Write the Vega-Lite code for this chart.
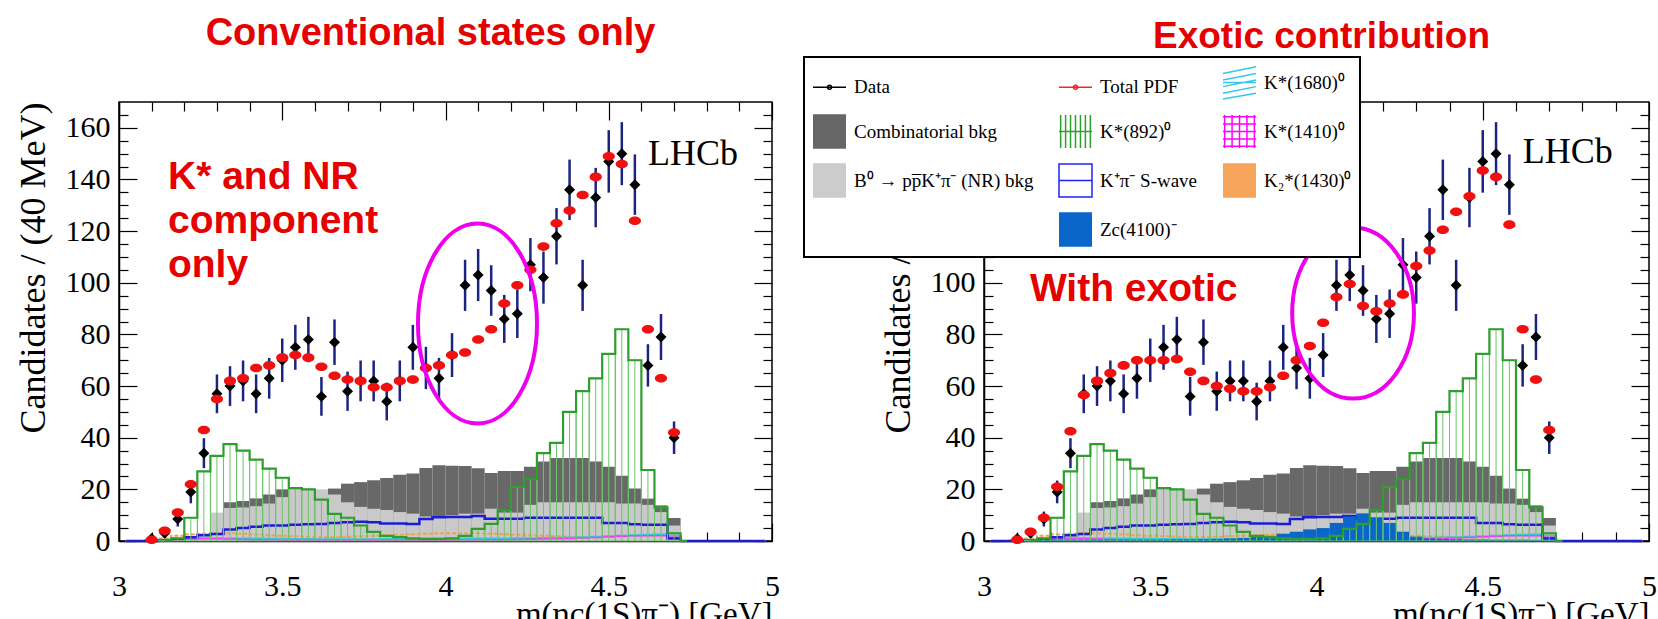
{
  "$schema": "https://vega.github.io/schema/vega-lite/v6.json",
  "padding": {"left": 14, "top": 14, "right": 0, "bottom": 0},
  "background": "white",
  "bounds": "flush",
  "spacing": 212,
  "config": {
    "view": {"stroke": "black", "strokeWidth": 1.5},
    "font": "Liberation Serif",
    "axis": {"grid": false, "labelFont": "Liberation Serif", "titleFont": "Liberation Serif", "labelColor": "black", "titleColor": "black", "tickColor": "black", "domainColor": "black", "titleFontWeight": "normal", "labelFontSize": 30, "titleFontSize": 36, "tickWidth": 1.2},
    "legend": {"strokeWidth": 2}
  },
  "datasets": {
    "hist": [
      {"m": 3.02, "lo": 3.00, "hi": 3.04, "comb": 0, "nr": 0, "kst": 0, "sw": 0, "k2": 0, "ka": 0, "kb": 0, "zc": 0},
      {"m": 3.06, "lo": 3.04, "hi": 3.08, "comb": 0, "nr": 0, "kst": 0, "sw": 0, "k2": 0, "ka": 0, "kb": 0, "zc": 0},
      {"m": 3.10, "lo": 3.08, "hi": 3.12, "comb": 0, "nr": 0, "kst": 0, "sw": 0, "k2": 0.2, "ka": 0.2, "kb": 0.1, "zc": 0.2},
      {"m": 3.14, "lo": 3.12, "hi": 3.16, "comb": 0, "nr": 0.3, "kst": 0.3, "sw": 0.2, "k2": 1, "ka": 0.5, "kb": 0.3, "zc": 0.3},
      {"m": 3.18, "lo": 3.16, "hi": 3.20, "comb": 0, "nr": 0.8, "kst": 1, "sw": 0.8, "k2": 2, "ka": 0.8, "kb": 0.6, "zc": 0.4},
      {"m": 3.22, "lo": 3.20, "hi": 3.24, "comb": 0, "nr": 1.5, "kst": 9, "sw": 1.5, "k2": 2.5, "ka": 1, "kb": 0.8, "zc": 0.5},
      {"m": 3.26, "lo": 3.24, "hi": 3.28, "comb": 0, "nr": 3, "kst": 27, "sw": 2.2, "k2": 2.8, "ka": 1, "kb": 1, "zc": 0.5},
      {"m": 3.30, "lo": 3.28, "hi": 3.32, "comb": 0, "nr": 11, "kst": 33, "sw": 2.7, "k2": 3, "ka": 1, "kb": 1, "zc": 0.5},
      {"m": 3.34, "lo": 3.32, "hi": 3.36, "comb": 15, "nr": 12.8, "kst": 37.5, "sw": 4.5, "k2": 3, "ka": 1, "kb": 0.8, "zc": 0.5},
      {"m": 3.38, "lo": 3.36, "hi": 3.40, "comb": 15.5, "nr": 13, "kst": 35, "sw": 5, "k2": 2.8, "ka": 1, "kb": 0.6, "zc": 0.5},
      {"m": 3.42, "lo": 3.40, "hi": 3.44, "comb": 16.5, "nr": 13.5, "kst": 31.5, "sw": 5.5, "k2": 2.5, "ka": 1, "kb": 0.5, "zc": 0.5},
      {"m": 3.46, "lo": 3.44, "hi": 3.48, "comb": 18, "nr": 14.5, "kst": 28, "sw": 6, "k2": 2.2, "ka": 0.9, "kb": 0.4, "zc": 0.5},
      {"m": 3.50, "lo": 3.48, "hi": 3.52, "comb": 20, "nr": 17, "kst": 24.5, "sw": 6, "k2": 2, "ka": 0.9, "kb": 0.3, "zc": 0.5},
      {"m": 3.54, "lo": 3.52, "hi": 3.56, "comb": 18, "nr": 20.3, "kst": 20.5, "sw": 6.3, "k2": 1.8, "ka": 0.8, "kb": 0.3, "zc": 0.5},
      {"m": 3.58, "lo": 3.56, "hi": 3.60, "comb": 18, "nr": 20.3, "kst": 20, "sw": 6.5, "k2": 1.6, "ka": 0.8, "kb": 0.3, "zc": 0.6},
      {"m": 3.62, "lo": 3.60, "hi": 3.64, "comb": 19, "nr": 20, "kst": 16, "sw": 6.6, "k2": 1.5, "ka": 0.7, "kb": 0.3, "zc": 0.6},
      {"m": 3.66, "lo": 3.64, "hi": 3.68, "comb": 20.3, "nr": 18, "kst": 10.5, "sw": 7, "k2": 1.5, "ka": 0.7, "kb": 0.3, "zc": 0.7},
      {"m": 3.70, "lo": 3.68, "hi": 3.72, "comb": 22.2, "nr": 15, "kst": 9, "sw": 7.3, "k2": 1.6, "ka": 0.7, "kb": 0.3, "zc": 0.8},
      {"m": 3.74, "lo": 3.72, "hi": 3.76, "comb": 22.8, "nr": 13.2, "kst": 6, "sw": 7.5, "k2": 1.8, "ka": 0.7, "kb": 0.3, "zc": 1},
      {"m": 3.78, "lo": 3.76, "hi": 3.80, "comb": 23.5, "nr": 12.5, "kst": 3.5, "sw": 7.3, "k2": 2, "ka": 0.7, "kb": 0.3, "zc": 1.2},
      {"m": 3.82, "lo": 3.80, "hi": 3.84, "comb": 24.4, "nr": 12, "kst": 2, "sw": 6.8, "k2": 2.2, "ka": 0.8, "kb": 0.3, "zc": 1.5},
      {"m": 3.86, "lo": 3.84, "hi": 3.88, "comb": 25.7, "nr": 11.2, "kst": 1.5, "sw": 6.8, "k2": 2.4, "ka": 0.8, "kb": 0.3, "zc": 2},
      {"m": 3.90, "lo": 3.88, "hi": 3.92, "comb": 26.1, "nr": 10.6, "kst": 1, "sw": 6.6, "k2": 2.6, "ka": 0.8, "kb": 0.3, "zc": 2.8},
      {"m": 3.94, "lo": 3.92, "hi": 3.96, "comb": 28.3, "nr": 9.5, "kst": 0.8, "sw": 8.5, "k2": 2.8, "ka": 0.9, "kb": 0.3, "zc": 3.6},
      {"m": 3.98, "lo": 3.96, "hi": 4.00, "comb": 29.3, "nr": 9.3, "kst": 0.8, "sw": 9.2, "k2": 3, "ka": 0.9, "kb": 0.3, "zc": 4.5},
      {"m": 4.02, "lo": 4.00, "hi": 4.04, "comb": 29.1, "nr": 10, "kst": 1, "sw": 9.3, "k2": 3, "ka": 0.9, "kb": 0.3, "zc": 5},
      {"m": 4.06, "lo": 4.04, "hi": 4.08, "comb": 29, "nr": 10.6, "kst": 2, "sw": 9.3, "k2": 3, "ka": 1, "kb": 0.4, "zc": 7},
      {"m": 4.10, "lo": 4.08, "hi": 4.12, "comb": 28.2, "nr": 10.6, "kst": 4.7, "sw": 9.7, "k2": 3, "ka": 1, "kb": 0.4, "zc": 9.5},
      {"m": 4.14, "lo": 4.12, "hi": 4.16, "comb": 26.3, "nr": 12.5, "kst": 6.6, "sw": 8.6, "k2": 2.8, "ka": 1, "kb": 0.5, "zc": 10.7},
      {"m": 4.18, "lo": 4.16, "hi": 4.20, "comb": 27.1, "nr": 11, "kst": 12, "sw": 8.6, "k2": 2.6, "ka": 1, "kb": 0.5, "zc": 9},
      {"m": 4.22, "lo": 4.20, "hi": 4.24, "comb": 27.1, "nr": 11, "kst": 21, "sw": 8.6, "k2": 2.4, "ka": 1.1, "kb": 0.6, "zc": 7},
      {"m": 4.26, "lo": 4.24, "hi": 4.28, "comb": 28.8, "nr": 14, "kst": 24, "sw": 9, "k2": 2.2, "ka": 1.1, "kb": 0.7, "zc": 3.6},
      {"m": 4.30, "lo": 4.28, "hi": 4.32, "comb": 30.8, "nr": 15, "kst": 34, "sw": 9, "k2": 2, "ka": 1.2, "kb": 0.8, "zc": 1.7},
      {"m": 4.34, "lo": 4.32, "hi": 4.36, "comb": 32.1, "nr": 15, "kst": 38, "sw": 9, "k2": 1.8, "ka": 1.3, "kb": 0.9, "zc": 1},
      {"m": 4.38, "lo": 4.36, "hi": 4.40, "comb": 32.1, "nr": 15, "kst": 50, "sw": 9, "k2": 1.6, "ka": 1.4, "kb": 1, "zc": 0.8},
      {"m": 4.42, "lo": 4.40, "hi": 4.44, "comb": 32.1, "nr": 15, "kst": 58, "sw": 9, "k2": 1.5, "ka": 1.5, "kb": 1.2, "zc": 0.7},
      {"m": 4.46, "lo": 4.44, "hi": 4.48, "comb": 30.8, "nr": 15, "kst": 63, "sw": 9, "k2": 1.5, "ka": 1.6, "kb": 1.4, "zc": 0.6},
      {"m": 4.50, "lo": 4.48, "hi": 4.52, "comb": 28.8, "nr": 15, "kst": 72.5, "sw": 7, "k2": 1.6, "ka": 1.8, "kb": 1.6, "zc": 0.6},
      {"m": 4.54, "lo": 4.52, "hi": 4.56, "comb": 25.3, "nr": 14.5, "kst": 82, "sw": 7, "k2": 1.8, "ka": 2, "kb": 1.8, "zc": 0.5},
      {"m": 4.58, "lo": 4.56, "hi": 4.60, "comb": 20.3, "nr": 14.5, "kst": 70, "sw": 6.5, "k2": 2, "ka": 2.2, "kb": 2, "zc": 0.5},
      {"m": 4.62, "lo": 4.60, "hi": 4.64, "comb": 16.4, "nr": 14, "kst": 27.5, "sw": 6.3, "k2": 2.2, "ka": 2.4, "kb": 2, "zc": 0.5},
      {"m": 4.66, "lo": 4.64, "hi": 4.68, "comb": 13.8, "nr": 11.2, "kst": 13, "sw": 6.3, "k2": 2.4, "ka": 2.5, "kb": 2, "zc": 0.4},
      {"m": 4.70, "lo": 4.68, "hi": 4.72, "comb": 8.9, "nr": 6, "kst": 3, "sw": 1, "k2": 2, "ka": 2, "kb": 1.5, "zc": 0.3},
      {"m": 4.74, "lo": 4.72, "hi": 4.76, "comb": 0, "nr": 0, "kst": 0, "sw": 0, "k2": 0, "ka": 0, "kb": 0, "zc": 0},
      {"m": 4.78, "lo": 4.76, "hi": 4.80, "comb": 0, "nr": 0, "kst": 0, "sw": 0, "k2": 0, "ka": 0, "kb": 0, "zc": 0},
      {"m": 4.82, "lo": 4.80, "hi": 4.84, "comb": 0, "nr": 0, "kst": 0, "sw": 0, "k2": 0, "ka": 0, "kb": 0, "zc": 0},
      {"m": 4.86, "lo": 4.84, "hi": 4.88, "comb": 0, "nr": 0, "kst": 0, "sw": 0, "k2": 0, "ka": 0, "kb": 0, "zc": 0},
      {"m": 4.90, "lo": 4.88, "hi": 4.92, "comb": 0, "nr": 0, "kst": 0, "sw": 0, "k2": 0, "ka": 0, "kb": 0, "zc": 0},
      {"m": 4.94, "lo": 4.92, "hi": 4.96, "comb": 0, "nr": 0, "kst": 0, "sw": 0, "k2": 0, "ka": 0, "kb": 0, "zc": 0},
      {"m": 4.98, "lo": 4.96, "hi": 5.00, "comb": 0, "nr": 0, "kst": 0, "sw": 0, "k2": 0, "ka": 0, "kb": 0, "zc": 0}
    ],
    "pts": [
      {"m": 3.10, "n": 1, "err": 1, "conv": 0.5, "exo": 0.5},
      {"m": 3.14, "n": 3, "err": 1.7, "conv": 4, "exo": 3.6},
      {"m": 3.18, "n": 8.5, "err": 2.9, "conv": 11, "exo": 9},
      {"m": 3.22, "n": 19, "err": 4.4, "conv": 22, "exo": 21},
      {"m": 3.26, "n": 34, "err": 5.8, "conv": 43, "exo": 42.5},
      {"m": 3.30, "n": 57, "err": 7.5, "conv": 55, "exo": 56.5},
      {"m": 3.34, "n": 60, "err": 7.7, "conv": 62, "exo": 62},
      {"m": 3.38, "n": 62, "err": 7.9, "conv": 63, "exo": 65},
      {"m": 3.42, "n": 57, "err": 7.5, "conv": 67, "exo": 68},
      {"m": 3.46, "n": 63, "err": 7.9, "conv": 68, "exo": 70},
      {"m": 3.50, "n": 70, "err": 8.4, "conv": 71, "exo": 70},
      {"m": 3.54, "n": 75, "err": 8.7, "conv": 72, "exo": 70},
      {"m": 3.58, "n": 78, "err": 8.8, "conv": 71, "exo": 70.5},
      {"m": 3.62, "n": 56, "err": 7.5, "conv": 67.5, "exo": 65.5},
      {"m": 3.66, "n": 77, "err": 8.8, "conv": 64, "exo": 62},
      {"m": 3.70, "n": 58, "err": 7.6, "conv": 62.5, "exo": 60},
      {"m": 3.74, "n": 62, "err": 7.9, "conv": 62, "exo": 59},
      {"m": 3.78, "n": 62, "err": 7.9, "conv": 59.5, "exo": 58},
      {"m": 3.82, "n": 54, "err": 7.3, "conv": 59.5, "exo": 58},
      {"m": 3.86, "n": 62, "err": 7.9, "conv": 62, "exo": 59.5},
      {"m": 3.90, "n": 75, "err": 8.7, "conv": 62.5, "exo": 64},
      {"m": 3.94, "n": 67, "err": 8.2, "conv": 67, "exo": 70},
      {"m": 3.98, "n": 63, "err": 7.9, "conv": 68, "exo": 75.5},
      {"m": 4.02, "n": 72, "err": 8.5, "conv": 72, "exo": 84.5},
      {"m": 4.06, "n": 99, "err": 9.9, "conv": 73, "exo": 94.5},
      {"m": 4.10, "n": 103, "err": 10.1, "conv": 78, "exo": 99.5},
      {"m": 4.14, "n": 97, "err": 9.8, "conv": 82, "exo": 91},
      {"m": 4.18, "n": 86, "err": 9.3, "conv": 92, "exo": 89},
      {"m": 4.22, "n": 88, "err": 9.4, "conv": 99, "exo": 92},
      {"m": 4.26, "n": 107, "err": 10.3, "conv": 105, "exo": 95.5},
      {"m": 4.30, "n": 102, "err": 10.1, "conv": 114, "exo": 106.5},
      {"m": 4.34, "n": 118, "err": 10.9, "conv": 123, "exo": 112.5},
      {"m": 4.38, "n": 136, "err": 11.7, "conv": 128, "exo": 120.5},
      {"m": 4.42, "n": 99, "err": 9.9, "conv": 134, "exo": 127.5},
      {"m": 4.46, "n": 133, "err": 11.5, "conv": 141, "exo": 133.5},
      {"m": 4.50, "n": 147, "err": 12.1, "conv": 149, "exo": 143.5},
      {"m": 4.54, "n": 150, "err": 12.2, "conv": 146, "exo": 141},
      {"m": 4.58, "n": 138, "err": 11.7, "conv": 124, "exo": 122.5},
      {"m": 4.62, "n": 68, "err": 8.2, "conv": 82, "exo": 82},
      {"m": 4.66, "n": 79, "err": 8.9, "conv": 63, "exo": 62.5},
      {"m": 4.70, "n": 40, "err": 6.3, "conv": 42, "exo": 43}
    ],
    "notes": [
      {"p": "L", "kind": "tag", "m": 4.62, "v": 145.5, "t": "LHCb"},
      {"p": "R", "kind": "tag", "m": 4.62, "v": 146.4, "t": "LHCb"},
      {"p": "L", "kind": "say", "m": 3.15, "v": 136.4, "t": "K* and NR\ncomponent\nonly"},
      {"p": "R", "kind": "say", "m": 3.138, "v": 92.9, "t": "With exotic"},
      {"p": "L", "kind": "ring", "m": 4.098, "v": 84.2, "t": ""},
      {"p": "R", "kind": "ring", "m": 4.11, "v": 88.25, "t": ""}
    ],
    "keys": [
      {"key": "Data"}, {"key": "Combinatorial bkg"}, {"key": "B⁰ → pp̅K⁺π⁻ (NR) bkg"}, {"key": " "},
      {"key": "Total PDF"}, {"key": "K*(892)⁰"}, {"key": "K⁺π⁻ S-wave"}, {"key": "Zc(4100)⁻"},
      {"key": "K*(1680)⁰"}, {"key": "K*(1410)⁰"}, {"key": "K₂*(1430)⁰"}
    ]
  },
  "resolve": {
    "scale": {"color": "independent", "shape": "independent"},
    "legend": {"color": "independent", "shape": "independent"}
  },
  "hconcat": [
    {
      "width": 653,
      "height": 439,
      "title": {"text": "Conventional states only", "font": "Liberation Sans", "fontSize": 38, "fontWeight": "bold", "color": "#e60000", "anchor": "middle", "offset": 48, "dx": -15},
      "resolve": {"axis": {"x": "independent", "y": "independent"}},
      "layer": [
        {
          "data": {"name": "hist"},
          "mark": {"type": "rect", "color": "#686868"},
          "encoding": {
            "x": {"field": "lo", "type": "quantitative", "scale": {"domain": [3, 5], "nice": false, "zero": false},
              "axis": {"orient": "bottom", "values": [3, 3.5, 4, 4.5, 5], "format": "~g", "tickSize": -18, "labelPadding": 48, "labelFlush": false, "labelOverlap": false, "title": "m(ηc(1S)π⁻) [GeV]", "titleAnchor": "end", "titleAlign": "right", "titlePadding": -3, "titleFontSize": 33, "domainWidth": 1.5}},
            "x2": {"field": "hi"},
            "y": {"field": "comb", "type": "quantitative", "scale": {"domain": [0, 170], "nice": false},
              "axis": {"orient": "left", "values": [0, 20, 40, 60, 80, 100, 120, 140, 160], "tickSize": -18, "labelPadding": 27, "title": "Candidates / (40 MeV)", "titleAnchor": "end", "titlePadding": 13, "domainWidth": 1.5}},
            "y2": {"datum": 0}
          }
        },
        {
          "data": {"name": "hist"},
          "mark": {"type": "rect", "color": "#c9c9c9"},
          "encoding": {
            "x": {"field": "lo", "type": "quantitative", "axis": {"orient": "bottom", "values": [3.1, 3.2, 3.3, 3.4, 3.6, 3.7, 3.8, 3.9, 4.1, 4.2, 4.3, 4.4, 4.6, 4.7, 4.8, 4.9], "tickSize": -9, "labels": false, "domain": false, "title": null}},
            "x2": {"field": "hi"},
            "y": {"field": "nr", "type": "quantitative", "axis": {"orient": "left", "values": [5, 10, 15, 25, 30, 35, 45, 50, 55, 65, 70, 75, 85, 90, 95, 105, 110, 115, 125, 130, 135, 145, 150, 155, 165], "tickSize": -9, "labels": false, "domain": false, "title": null}},
            "y2": {"datum": 0}
          }
        },
        {
          "data": {"name": "hist"},
          "mark": {"type": "line", "interpolate": "step", "color": "#f5a04a", "strokeWidth": 2, "strokeDash": [4, 2]},
          "encoding": {
            "x": {"field": "m", "type": "quantitative", "axis": {"orient": "top", "values": [3, 3.5, 4, 4.5, 5], "tickSize": -18, "labels": false, "domain": false, "title": null}},
            "y": {"field": "k2", "type": "quantitative", "axis": {"orient": "right", "values": [0, 20, 40, 60, 80, 100, 120, 140, 160], "tickSize": -18, "labels": false, "domain": false, "title": null}}
          }
        },
        {
          "data": {"name": "hist"},
          "mark": {"type": "line", "interpolate": "step", "color": "#33c6ee", "strokeWidth": 2},
          "encoding": {
            "x": {"field": "m", "type": "quantitative", "axis": {"orient": "top", "values": [3.1, 3.2, 3.3, 3.4, 3.6, 3.7, 3.8, 3.9, 4.1, 4.2, 4.3, 4.4, 4.6, 4.7, 4.8, 4.9], "tickSize": -9, "labels": false, "domain": false, "title": null}},
            "y": {"field": "ka", "type": "quantitative", "axis": {"orient": "right", "values": [5, 10, 15, 25, 30, 35, 45, 50, 55, 65, 70, 75, 85, 90, 95, 105, 110, 115, 125, 130, 135, 145, 150, 155, 165], "tickSize": -9, "labels": false, "domain": false, "title": null}}
          }
        },
        {
          "data": {"name": "hist"},
          "mark": {"type": "line", "interpolate": "step", "color": "#ff33ff", "strokeWidth": 1.5},
          "encoding": {"x": {"field": "m", "type": "quantitative", "axis": null}, "y": {"field": "kb", "type": "quantitative", "axis": null}}
        },
        {
          "data": {"name": "hist"},
          "mark": {"type": "line", "interpolate": "step", "color": "#1c1cd6", "strokeWidth": 2.5},
          "encoding": {"x": {"field": "m", "type": "quantitative", "axis": null}, "y": {"field": "sw", "type": "quantitative", "axis": null}}
        },
        {
          "data": {"name": "hist"},
          "transform": [{"filter": "datum.kst > 0"}],
          "mark": {"type": "rect", "fill": "transparent", "stroke": "#6cc46c", "strokeWidth": 1},
          "encoding": {"x": {"field": "lo", "type": "quantitative", "axis": null}, "x2": {"field": "hi"}, "y": {"field": "kst", "type": "quantitative", "axis": null}, "y2": {"datum": 0}}
        },
        {
          "data": {"name": "hist"},
          "transform": [{"filter": "datum.kst > 0"}],
          "mark": {"type": "rule", "color": "#6cc46c", "strokeWidth": 1},
          "encoding": {"x": {"field": "m", "type": "quantitative", "axis": null}, "y": {"field": "kst", "type": "quantitative", "axis": null}, "y2": {"datum": 0}}
        },
        {
          "data": {"name": "hist"},
          "transform": [{"filter": {"field": "m", "range": [3.14, 4.74]}}],
          "mark": {"type": "line", "interpolate": "step", "color": "#2e9e2e", "strokeWidth": 2.2},
          "encoding": {"x": {"field": "m", "type": "quantitative", "axis": null}, "y": {"field": "kst", "type": "quantitative", "axis": null}}
        },
        {
          "data": {"name": "pts"},
          "mark": {"type": "errorbar", "ticks": false, "thickness": 2.5, "color": "#1b2580"},
          "encoding": {"x": {"field": "m", "type": "quantitative", "axis": null}, "y": {"field": "n", "type": "quantitative", "axis": null}, "yError": {"field": "err"}}
        },
        {
          "data": {"name": "pts"},
          "mark": {"type": "point", "filled": true, "color": "black", "opacity": 1, "shape": "M-1,0L0,-1L1,0L0,1Z", "size": 121},
          "encoding": {"x": {"field": "m", "type": "quantitative", "axis": null}, "y": {"field": "n", "type": "quantitative", "axis": null}}
        },
        {
          "data": {"name": "pts"},
          "mark": {"type": "point", "filled": true, "color": "#f01010", "opacity": 1, "shape": "M-1,0A1,0.7 0 1,0 1,0A1,0.7 0 1,0 -1,0Z", "size": 150},
          "encoding": {"x": {"field": "m", "type": "quantitative", "axis": null}, "y": {"field": "conv", "type": "quantitative", "axis": null}}
        },
        {
          "data": {"name": "notes"},
          "transform": [{"filter": "datum.p === 'L' && datum.kind === 'ring'"}],
          "mark": {"type": "point", "filled": false, "stroke": "#ee00ee", "strokeWidth": 4, "opacity": 1, "shape": "M-0.595,0A0.595,1 0 1,0 0.595,0A0.595,1 0 1,0 -0.595,0Z", "size": 40000},
          "encoding": {"x": {"field": "m", "type": "quantitative", "axis": null}, "y": {"field": "v", "type": "quantitative", "axis": null}}
        },
        {
          "data": {"name": "notes"},
          "transform": [{"filter": "datum.p === 'L' && datum.kind === 'tag'"}],
          "mark": {"type": "text", "font": "Liberation Serif", "fontSize": 36, "color": "black", "align": "left", "baseline": "alphabetic"},
          "encoding": {"x": {"field": "m", "type": "quantitative", "axis": null}, "y": {"field": "v", "type": "quantitative", "axis": null}, "text": {"field": "t"}}
        },
        {
          "data": {"name": "notes"},
          "transform": [{"filter": "datum.p === 'L' && datum.kind === 'say'"}],
          "mark": {"type": "text", "font": "Liberation Sans", "fontWeight": "bold", "fontSize": 39, "color": "#e60000", "align": "left", "baseline": "alphabetic", "lineBreak": "\n", "lineHeight": 44},
          "encoding": {"x": {"field": "m", "type": "quantitative", "axis": null}, "y": {"field": "v", "type": "quantitative", "axis": null}, "text": {"field": "t"}}
        }
      ]
    },
    {
      "width": 665,
      "height": 439,
      "title": {"text": "Exotic contribution", "font": "Liberation Sans", "fontSize": 37, "fontWeight": "bold", "color": "#e60000", "anchor": "middle", "offset": 0, "dx": 5},
      "resolve": {"axis": {"x": "independent", "y": "independent"}},
      "layer": [
        {
          "data": {"name": "hist"},
          "mark": {"type": "rect", "color": "#686868"},
          "encoding": {
            "x": {"field": "lo", "type": "quantitative", "scale": {"domain": [3, 5], "nice": false, "zero": false},
              "axis": {"orient": "bottom", "values": [3, 3.5, 4, 4.5, 5], "format": "~g", "tickSize": -18, "labelPadding": 48, "labelFlush": false, "labelOverlap": false, "title": "m(ηc(1S)π⁻) [GeV]", "titleAnchor": "end", "titleAlign": "right", "titlePadding": -3, "titleFontSize": 33, "domainWidth": 1.5}},
            "x2": {"field": "hi"},
            "y": {"field": "comb", "type": "quantitative", "scale": {"domain": [0, 170], "nice": false},
              "axis": {"orient": "left", "values": [0, 20, 40, 60, 80, 100, 120, 140, 160], "tickSize": -18, "labelPadding": 27, "title": "Candidates / (40 MeV)", "titleAnchor": "end", "titlePadding": 13, "domainWidth": 1.5}},
            "y2": {"datum": 0}
          }
        },
        {
          "data": {"name": "hist"},
          "mark": {"type": "rect", "color": "#c9c9c9"},
          "encoding": {
            "x": {"field": "lo", "type": "quantitative", "axis": {"orient": "bottom", "values": [3.1, 3.2, 3.3, 3.4, 3.6, 3.7, 3.8, 3.9, 4.1, 4.2, 4.3, 4.4, 4.6, 4.7, 4.8, 4.9], "tickSize": -9, "labels": false, "domain": false, "title": null}},
            "x2": {"field": "hi"},
            "y": {"field": "nr", "type": "quantitative", "axis": {"orient": "left", "values": [5, 10, 15, 25, 30, 35, 45, 50, 55, 65, 70, 75, 85, 90, 95, 105, 110, 115, 125, 130, 135, 145, 150, 155, 165], "tickSize": -9, "labels": false, "domain": false, "title": null}},
            "y2": {"datum": 0}
          }
        },
        {
          "data": {"name": "hist"},
          "mark": {"type": "line", "interpolate": "step", "color": "#f5a04a", "strokeWidth": 2, "strokeDash": [4, 2]},
          "encoding": {
            "x": {"field": "m", "type": "quantitative", "axis": {"orient": "top", "values": [3, 3.5, 4, 4.5, 5], "tickSize": -18, "labels": false, "domain": false, "title": null}},
            "y": {"field": "k2", "type": "quantitative", "axis": {"orient": "right", "values": [0, 20, 40, 60, 80, 100, 120, 140, 160], "tickSize": -18, "labels": false, "domain": false, "title": null}}
          }
        },
        {
          "data": {"name": "hist"},
          "mark": {"type": "line", "interpolate": "step", "color": "#33c6ee", "strokeWidth": 2},
          "encoding": {
            "x": {"field": "m", "type": "quantitative", "axis": {"orient": "top", "values": [3.1, 3.2, 3.3, 3.4, 3.6, 3.7, 3.8, 3.9, 4.1, 4.2, 4.3, 4.4, 4.6, 4.7, 4.8, 4.9], "tickSize": -9, "labels": false, "domain": false, "title": null}},
            "y": {"field": "ka", "type": "quantitative", "axis": {"orient": "right", "values": [5, 10, 15, 25, 30, 35, 45, 50, 55, 65, 70, 75, 85, 90, 95, 105, 110, 115, 125, 130, 135, 145, 150, 155, 165], "tickSize": -9, "labels": false, "domain": false, "title": null}}
          }
        },
        {
          "data": {"name": "hist"},
          "mark": {"type": "line", "interpolate": "step", "color": "#ff33ff", "strokeWidth": 1.5},
          "encoding": {"x": {"field": "m", "type": "quantitative", "axis": null}, "y": {"field": "kb", "type": "quantitative", "axis": null}}
        },
        {
          "data": {"name": "hist"},
          "mark": {"type": "line", "interpolate": "step", "color": "#1c1cd6", "strokeWidth": 2.5},
          "encoding": {"x": {"field": "m", "type": "quantitative", "axis": null}, "y": {"field": "sw", "type": "quantitative", "axis": null}}
        },
        {
          "data": {"name": "hist"},
          "mark": {"type": "rect", "color": "#0a66c8"},
          "encoding": {"x": {"field": "lo", "type": "quantitative", "axis": null}, "x2": {"field": "hi"}, "y": {"field": "zc", "type": "quantitative", "axis": null}, "y2": {"datum": 0}}
        },
        {
          "data": {"name": "hist"},
          "transform": [{"filter": "datum.kst > 0"}],
          "mark": {"type": "rect", "fill": "transparent", "stroke": "#6cc46c", "strokeWidth": 1},
          "encoding": {"x": {"field": "lo", "type": "quantitative", "axis": null}, "x2": {"field": "hi"}, "y": {"field": "kst", "type": "quantitative", "axis": null}, "y2": {"datum": 0}}
        },
        {
          "data": {"name": "hist"},
          "transform": [{"filter": "datum.kst > 0"}],
          "mark": {"type": "rule", "color": "#6cc46c", "strokeWidth": 1},
          "encoding": {"x": {"field": "m", "type": "quantitative", "axis": null}, "y": {"field": "kst", "type": "quantitative", "axis": null}, "y2": {"datum": 0}}
        },
        {
          "data": {"name": "hist"},
          "transform": [{"filter": {"field": "m", "range": [3.14, 4.74]}}],
          "mark": {"type": "line", "interpolate": "step", "color": "#2e9e2e", "strokeWidth": 2.2},
          "encoding": {"x": {"field": "m", "type": "quantitative", "axis": null}, "y": {"field": "kst", "type": "quantitative", "axis": null}}
        },
        {
          "data": {"name": "pts"},
          "mark": {"type": "errorbar", "ticks": false, "thickness": 2.5, "color": "#1b2580"},
          "encoding": {"x": {"field": "m", "type": "quantitative", "axis": null}, "y": {"field": "n", "type": "quantitative", "axis": null}, "yError": {"field": "err"}}
        },
        {
          "data": {"name": "pts"},
          "mark": {"type": "point", "filled": true, "color": "black", "opacity": 1, "shape": "M-1,0L0,-1L1,0L0,1Z", "size": 121},
          "encoding": {"x": {"field": "m", "type": "quantitative", "axis": null}, "y": {"field": "n", "type": "quantitative", "axis": null}}
        },
        {
          "data": {"name": "pts"},
          "mark": {"type": "point", "filled": true, "color": "#f01010", "opacity": 1, "shape": "M-1,0A1,0.7 0 1,0 1,0A1,0.7 0 1,0 -1,0Z", "size": 150},
          "encoding": {"x": {"field": "m", "type": "quantitative", "axis": null}, "y": {"field": "exo", "type": "quantitative", "axis": null}}
        },
        {
          "data": {"name": "notes"},
          "transform": [{"filter": "datum.p === 'R' && datum.kind === 'ring'"}],
          "mark": {"type": "point", "filled": false, "stroke": "#ee00ee", "strokeWidth": 4, "opacity": 1, "shape": "M-0.712,0A0.712,1 0 1,0 0.712,0A0.712,1 0 1,0 -0.712,0Z", "size": 29241},
          "encoding": {"x": {"field": "m", "type": "quantitative", "axis": null}, "y": {"field": "v", "type": "quantitative", "axis": null}}
        },
        {
          "data": {"name": "notes"},
          "transform": [{"filter": "datum.p === 'R' && datum.kind === 'tag'"}],
          "mark": {"type": "text", "font": "Liberation Serif", "fontSize": 36, "color": "black", "align": "left", "baseline": "alphabetic"},
          "encoding": {"x": {"field": "m", "type": "quantitative", "axis": null}, "y": {"field": "v", "type": "quantitative", "axis": null}, "text": {"field": "t"}}
        },
        {
          "data": {"name": "notes"},
          "transform": [{"filter": "datum.p === 'R' && datum.kind === 'say'"}],
          "mark": {"type": "text", "font": "Liberation Sans", "fontWeight": "bold", "fontSize": 39, "color": "#e60000", "align": "left", "baseline": "alphabetic"},
          "encoding": {"x": {"field": "m", "type": "quantitative", "axis": null}, "y": {"field": "v", "type": "quantitative", "axis": null}, "text": {"field": "t"}}
        },
        {
          "data": {"name": "keys"},
          "mark": {"type": "point", "filled": false, "opacity": 0},
          "encoding": {
            "color": {"field": "key", "type": "nominal",
              "scale": {"domain": ["Data", "Combinatorial bkg", "B⁰ → pp̅K⁺π⁻ (NR) bkg", " ", "Total PDF", "K*(892)⁰", "K⁺π⁻ S-wave", "Zc(4100)⁻", "K*(1680)⁰", "K*(1410)⁰", "K₂*(1430)⁰"],
                "range": ["black", "#666666", "#cccccc", "transparent", "#ff2020", "#2ca02c", "#2020ff", "#0a66c8", "#33c6ee", "#ff00ff", "#f6a45c"]},
              "legend": {"title": null, "orient": "none", "legendX": -180, "legendY": -45, "columns": 3, "symbolSize": 1089, "symbolStrokeWidth": 1.5, "labelFont": "Liberation Serif", "labelFontSize": 19, "labelColor": "black", "labelOffset": 7, "rowPadding": 10, "columnPadding": 22, "padding": 8, "fillColor": "white", "strokeColor": "black", "labelLimit": 300}},
            "shape": {"field": "key", "type": "nominal",
              "scale": {"domain": ["Data", "Combinatorial bkg", "B⁰ → pp̅K⁺π⁻ (NR) bkg", " ", "Total PDF", "K*(892)⁰", "K⁺π⁻ S-wave", "Zc(4100)⁻", "K*(1680)⁰", "K*(1410)⁰", "K₂*(1430)⁰"],
                "range": [
                  "M-1,0H1M-0.12,0A0.12,0.12 0 1,0 0.12,0A0.12,0.12 0 1,0 -0.12,0Z",
                  "M-1,-1H1M-1,-0.92H1M-1,-0.84H1M-1,-0.76H1M-1,-0.68H1M-1,-0.6H1M-1,-0.52H1M-1,-0.44H1M-1,-0.36H1M-1,-0.28H1M-1,-0.2H1M-1,-0.12H1M-1,-0.04H1M-1,0.04H1M-1,0.12H1M-1,0.2H1M-1,0.28H1M-1,0.36H1M-1,0.44H1M-1,0.52H1M-1,0.6H1M-1,0.68H1M-1,0.76H1M-1,0.84H1M-1,0.92H1M-1,1H1",
                  "M-1,-1H1M-1,-0.92H1M-1,-0.84H1M-1,-0.76H1M-1,-0.68H1M-1,-0.6H1M-1,-0.52H1M-1,-0.44H1M-1,-0.36H1M-1,-0.28H1M-1,-0.2H1M-1,-0.12H1M-1,-0.04H1M-1,0.04H1M-1,0.12H1M-1,0.2H1M-1,0.28H1M-1,0.36H1M-1,0.44H1M-1,0.52H1M-1,0.6H1M-1,0.68H1M-1,0.76H1M-1,0.84H1M-1,0.92H1M-1,1H1",
                  "M0,0",
                  "M-1,0H1M-0.12,0A0.12,0.12 0 1,0 0.12,0A0.12,0.12 0 1,0 -0.12,0Z",
                  "M-0.9,-1V1M-0.6,-1V1M-0.3,-1V1M0,-1V1M0.3,-1V1M0.6,-1V1M0.9,-1V1M-1,0H1",
                  "M-1,-1H1V1H-1ZM-1,0H1",
                  "M-1,-1H1M-1,-0.92H1M-1,-0.84H1M-1,-0.76H1M-1,-0.68H1M-1,-0.6H1M-1,-0.52H1M-1,-0.44H1M-1,-0.36H1M-1,-0.28H1M-1,-0.2H1M-1,-0.12H1M-1,-0.04H1M-1,0.04H1M-1,0.12H1M-1,0.2H1M-1,0.28H1M-1,0.36H1M-1,0.44H1M-1,0.52H1M-1,0.6H1M-1,0.68H1M-1,0.76H1M-1,0.84H1M-1,0.92H1M-1,1H1",
                  "M-1,-0.55L1,-0.95M-1,-0.15L1,-0.55M-1,0.25L1,-0.15M-1,0.65L1,0.25M-1,1L1,0.65M-1,0H1",
                  "M-0.9,-1V1M-0.45,-1V1M0,-1V1M0.45,-1V1M0.9,-1V1M-1,-0.9H1M-1,-0.45H1M-1,0H1M-1,0.45H1M-1,0.9H1",
                  "M-1,-1H1M-1,-0.92H1M-1,-0.84H1M-1,-0.76H1M-1,-0.68H1M-1,-0.6H1M-1,-0.52H1M-1,-0.44H1M-1,-0.36H1M-1,-0.28H1M-1,-0.2H1M-1,-0.12H1M-1,-0.04H1M-1,0.04H1M-1,0.12H1M-1,0.2H1M-1,0.28H1M-1,0.36H1M-1,0.44H1M-1,0.52H1M-1,0.6H1M-1,0.68H1M-1,0.76H1M-1,0.84H1M-1,0.92H1M-1,1H1"
                ]},
              "legend": {"title": null, "orient": "none", "legendX": -180, "legendY": -45, "columns": 3, "symbolSize": 1089, "symbolStrokeWidth": 1.5, "labelFont": "Liberation Serif", "labelFontSize": 19, "labelColor": "black", "labelOffset": 7, "rowPadding": 10, "columnPadding": 22, "padding": 8, "fillColor": "white", "strokeColor": "black", "labelLimit": 300}}
          }
        }
      ]
    }
  ]
}
